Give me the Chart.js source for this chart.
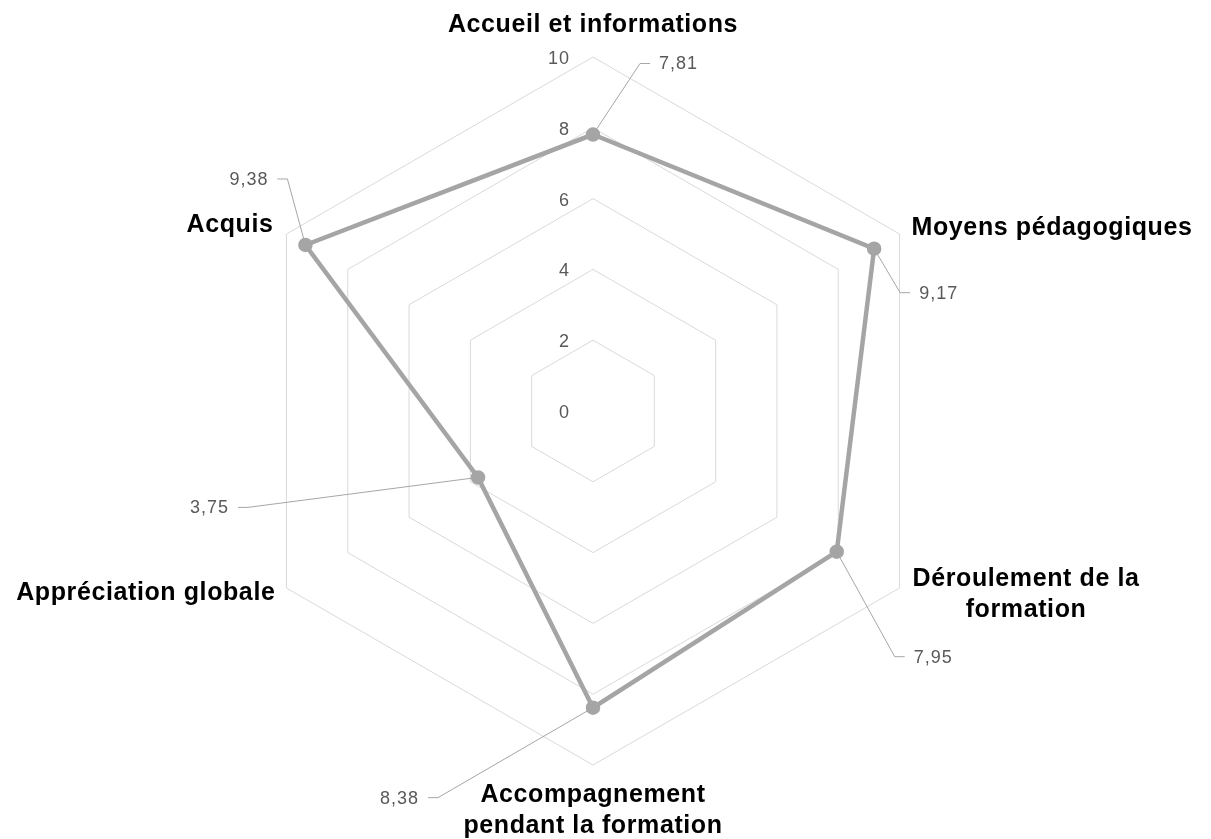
<!DOCTYPE html>
<html>
<head>
<meta charset="utf-8">
<script src="https://cdn.jsdelivr.net/npm/chart.js@4/dist/chart.umd.min.js"></script>
<style>
  html, body { margin: 0; padding: 0; background: #fff; }
  #wrap { width: 1211px; height: 839px; position: relative; }
</style>
</head>
<body>
<div id="wrap"><canvas id="radar"></canvas></div>
<script>
// categories (multi-line labels as arrays)
var categories = [
  ['Accueil et informations'],
  ['Moyens pédagogiques'],
  ['Déroulement de la', 'formation'],
  ['Accompagnement', 'pendant la formation'],
  ['Appréciation globale'],
  ['Acquis']
];
var scores = [7.81, 9.17, 7.95, 8.38, 3.75, 9.38];
var scoreLabels = ['7,81', '9,17', '7,95', '8,38', '3,75', '9,38'];
var tickValues = [0, 2, 4, 6, 8, 10];

// layout / style only
var catAlign = ['center', 'left', 'left', 'center', 'right', 'right'];
var catOffset = [[0, -32], [12, -6], [13, 7], [0, 46], [-11, 5], [-13, -9]];
// leader line elbow relative to point, and side of the label
var leaderElbow = [[47, -71], [26, 44], [58, 105], [-155, 90], [-230, 30], [-18, -66]];
var leaderSide = [1, 1, 1, -1, -1, -1];

var GRAY = '#a5a5a5';
var TXT = '#595959';

// etiquettes, graduations et lignes de rappel
var labelPlugin = {
  id: 'labelPlugin',
  afterDatasetsDraw: function (chart) {
    var ctx = chart.ctx;
    var sc = chart.scales.r;
    ctx.save();

    // graduations a gauche de l'axe
    ctx.font = '18px "Liberation Sans", Arial, sans-serif';
    ctx.letterSpacing = '1px';
    ctx.fillStyle = TXT;
    ctx.textAlign = 'right';
    ctx.textBaseline = 'middle';
    tickValues.forEach(function (v) {
      var y = sc.yCenter - sc.getDistanceFromCenterForValue(v);
      ctx.fillText(String(v), sc.xCenter - 23, y + 2);
    });

    // noms des axes
    ctx.font = 'bold 25px "Liberation Sans", Arial, sans-serif';
    ctx.letterSpacing = '0.6px';
    ctx.fillStyle = '#000';
    ctx.textBaseline = 'middle';
    var lh = 31;
    categories.forEach(function (lines, i) {
      var p = sc.getPointPosition(i, sc.drawingArea);
      var cx = p.x + catOffset[i][0];
      var cy = p.y + catOffset[i][1];
      var w = 0;
      lines.forEach(function (t) { w = Math.max(w, ctx.measureText(t).width); });
      var mid = cx;
      if (catAlign[i] === 'left') mid = cx + w / 2;
      if (catAlign[i] === 'right') mid = cx - w / 2;
      ctx.textAlign = 'center';
      var y0 = cy - (lines.length - 1) * lh / 2;
      lines.forEach(function (t, k) {
        ctx.fillText(t, mid, y0 + k * lh);
      });
    });

    // valeurs avec lignes de rappel
    var meta = chart.getDatasetMeta(0);
    ctx.font = '18px "Liberation Sans", Arial, sans-serif';
    ctx.letterSpacing = '1px';
    meta.data.forEach(function (pt, i) {
      var ex = pt.x + leaderElbow[i][0];
      var ey = pt.y + leaderElbow[i][1];
      var s = leaderSide[i];
      ctx.strokeStyle = '#a6a6a6';
      ctx.lineWidth = 1;
      ctx.beginPath();
      ctx.moveTo(pt.x, pt.y);
      ctx.lineTo(ex, ey);
      ctx.lineTo(ex + s * 10, ey);
      ctx.stroke();
      ctx.fillStyle = TXT;
      ctx.textAlign = s > 0 ? 'left' : 'right';
      ctx.fillText(scoreLabels[i], ex + s * 19, ey + 1);
    });

    ctx.restore();
  }
};

new Chart(document.getElementById('radar'), {
  type: 'radar',
  data: {
    labels: categories,
    datasets: [{
      data: scores,
      borderColor: GRAY,
      backgroundColor: GRAY,
      borderWidth: 4.5,
      pointRadius: 5,
      pointBackgroundColor: GRAY,
      pointBorderColor: GRAY,
      fill: false
    }]
  },
  options: {
    responsive: true,
    maintainAspectRatio: false,
    animation: false,
    events: [],
    plugins: { legend: { display: false }, tooltip: { enabled: false } },
    scales: {
      r: {
        min: 0,
        max: 10,
        ticks: { stepSize: 2, display: false },
        grid: { color: '#d9d9d9', lineWidth: 1 },
        angleLines: { display: false },
        pointLabels: { display: false },
        afterFit: function (scale) {
          scale.xCenter = 593;
          scale.yCenter = 411;
          scale.drawingArea = 354;
        }
      }
    }
  },
  plugins: [labelPlugin]
});
</script>
</body>
</html>
